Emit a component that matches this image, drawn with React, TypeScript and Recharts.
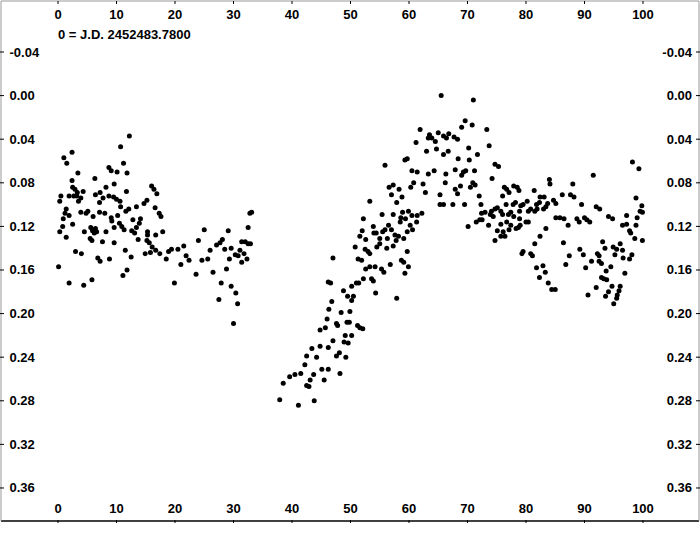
import React from "react";
import { ScatterChart, Scatter, XAxis, YAxis, Customized } from "recharts";

// phase (x) ticks and magnitude (y) ticks
const xTicks = [0, 10, 20, 30, 40, 50, 60, 70, 80, 90, 100];
const yTicks = [-0.04, 0, 0.04, 0.08, 0.12, 0.16, 0.2, 0.24, 0.28, 0.32, 0.36];
const epochLabel = "0 = J.D. 2452483.7800";

// [phase, delta mag]
const firstPart: [number, number][] = [
  [12.2, 0.037], [10.7, 0.047], [2.4, 0.052], [1.0, 0.057], [1.5, 0.062], [11.2, 0.062], [8.7, 0.066],
  [9.1, 0.069], [10.1, 0.07], [11.8, 0.071], [3.4, 0.071], [6.3, 0.076], [2.4, 0.078], [9.6, 0.081],
  [8.2, 0.084], [2.5, 0.084], [2.9, 0.086], [16.0, 0.083], [16.4, 0.086], [7.2, 0.089], [11.7, 0.088],
  [4.3, 0.088], [3.3, 0.089], [3.2, 0.092], [16.9, 0.09], [6.4, 0.091], [0.5, 0.092], [0.3, 0.097],
  [1.9, 0.092], [2.7, 0.092], [8.7, 0.092], [9.5, 0.093], [10.0, 0.095], [3.9, 0.094], [3.5, 0.097],
  [7.7, 0.094], [15.2, 0.096], [14.7, 0.099], [7.1, 0.098], [10.6, 0.097], [10.7, 0.102], [12.1, 0.104],
  [11.6, 0.106], [13.4, 0.102], [1.4, 0.104], [1.2, 0.108], [5.1, 0.106], [4.8, 0.108], [3.9, 0.107],
  [7.1, 0.107], [8.0, 0.108], [16.6, 0.103], [17.3, 0.108], [17.6, 0.111], [10.2, 0.11], [6.0, 0.111],
  [1.9, 0.11], [0.9, 0.113], [9.1, 0.112], [9.2, 0.115], [12.8, 0.114], [14.1, 0.113], [13.9, 0.117],
  [13.4, 0.121], [2.5, 0.118], [10.5, 0.117], [10.9, 0.12], [9.6, 0.121], [0.8, 0.12], [0.3, 0.125],
  [5.6, 0.121], [5.9, 0.124], [6.2, 0.126], [6.4, 0.122], [6.6, 0.125], [11.3, 0.123], [12.6, 0.124],
  [13.1, 0.126], [8.2, 0.125], [4.5, 0.125], [15.3, 0.125], [15.3, 0.128], [17.9, 0.125], [16.7, 0.128],
  [1.4, 0.13], [5.5, 0.131], [5.8, 0.133], [13.7, 0.132], [15.2, 0.133], [15.6, 0.135], [7.6, 0.134],
  [9.6, 0.135], [16.1, 0.139], [15.8, 0.144], [16.7, 0.142], [11.5, 0.142], [18.9, 0.143], [3.0, 0.143],
  [4.0, 0.145], [14.9, 0.145], [17.4, 0.145], [12.5, 0.148], [6.8, 0.149], [7.2, 0.152], [8.8, 0.15],
  [18.5, 0.15], [0.1, 0.157], [11.8, 0.16], [11.1, 0.165], [5.8, 0.169], [4.4, 0.174], [1.9, 0.172],
];

const firstTail: [number, number][] = [
  [33.1, 0.107], [32.8, 0.108], [25.0, 0.123], [29.1, 0.124], [32.5, 0.121], [24.0, 0.133], [28.1, 0.132],
  [27.7, 0.135], [27.1, 0.137], [31.4, 0.134], [32.0, 0.134], [32.5, 0.136], [32.9, 0.136], [21.5, 0.138],
  [20.5, 0.141], [19.4, 0.141], [26.0, 0.142], [28.5, 0.141], [29.6, 0.14], [31.1, 0.142], [30.3, 0.146],
  [30.8, 0.147], [31.8, 0.145], [32.3, 0.15], [21.9, 0.147], [22.4, 0.151], [24.6, 0.151], [25.6, 0.15],
  [29.3, 0.15], [31.4, 0.153], [21.0, 0.155], [28.8, 0.159], [23.6, 0.164], [26.5, 0.162], [19.9, 0.172],
  [27.9, 0.172], [29.6, 0.175], [30.4, 0.181], [27.5, 0.187], [30.7, 0.191], [30.0, 0.209],
];

const risePart: [number, number][] = [
  [37.9, 0.279], [41.1, 0.284], [43.8, 0.28], [38.5, 0.264], [39.6, 0.258], [40.5, 0.256], [41.5, 0.255],
  [42.5, 0.266], [42.9, 0.267], [43.1, 0.261], [43.7, 0.256], [45.1, 0.251], [46.2, 0.251], [45.5, 0.261],
  [48.2, 0.255], [42.2, 0.247], [42.5, 0.239], [44.2, 0.24], [43.4, 0.232], [44.8, 0.23], [46.2, 0.231],
  [47.6, 0.239], [49.2, 0.24], [48.1, 0.236], [47.0, 0.225], [48.9, 0.226], [49.6, 0.227], [49.1, 0.22],
  [50.2, 0.22], [44.8, 0.215], [45.7, 0.213], [46.0, 0.205], [46.3, 0.196], [47.6, 0.209], [47.8, 0.211],
  [49.4, 0.208], [49.8, 0.208], [51.2, 0.211], [51.6, 0.213], [52.1, 0.214], [48.4, 0.199], [49.9, 0.198],
  [46.8, 0.189], [50.2, 0.188], [50.5, 0.184], [49.5, 0.184], [48.8, 0.179], [54.3, 0.181], [57.9, 0.186],
  [46.2, 0.171], [46.6, 0.172], [50.2, 0.175], [51.0, 0.172], [51.4, 0.172], [52.2, 0.168], [53.6, 0.168],
  [53.9, 0.17], [52.6, 0.159], [53.3, 0.157], [54.2, 0.157], [55.3, 0.159], [55.7, 0.162], [56.8, 0.155],
  [58.7, 0.151], [59.1, 0.153], [59.7, 0.143], [59.9, 0.157], [59.3, 0.163], [51.3, 0.15], [51.9, 0.151],
  [47.0, 0.149], [50.8, 0.139], [52.5, 0.141], [53.0, 0.143], [53.3, 0.145], [54.5, 0.139], [55.0, 0.136],
  [56.2, 0.14], [57.3, 0.138], [58.2, 0.129], [57.6, 0.128], [57.0, 0.123], [56.5, 0.119], [58.5, 0.116],
  [57.8, 0.133], [59.1, 0.131], [59.7, 0.125], [60.6, 0.123], [60.2, 0.119], [61.3, 0.116], [54.0, 0.126],
  [54.4, 0.126], [55.5, 0.125], [55.9, 0.123], [52.0, 0.124], [51.6, 0.129], [52.6, 0.132], [53.9, 0.12],
  [55.0, 0.131], [56.3, 0.131],
];

const peakPart: [number, number][] = [
  [65.5, 0.0], [61.9, 0.031], [63.5, 0.036], [63.9, 0.039], [63.3, 0.039], [65.0, 0.034], [64.5, 0.042],
  [65.9, 0.037], [66.4, 0.039], [66.8, 0.035], [61.2, 0.043], [63.0, 0.051], [64.7, 0.049], [65.9, 0.054],
  [66.7, 0.051], [59.7, 0.058], [59.3, 0.059], [55.9, 0.064], [60.5, 0.069], [61.4, 0.07], [63.3, 0.072],
  [64.3, 0.069], [66.3, 0.072], [60.8, 0.08], [60.3, 0.084], [62.4, 0.081], [66.2, 0.08], [56.6, 0.084],
  [57.3, 0.082], [58.3, 0.086], [57.0, 0.091], [58.8, 0.093], [62.8, 0.089], [65.3, 0.091], [53.3, 0.097],
  [57.9, 0.098], [65.3, 0.1], [65.9, 0.1], [55.4, 0.109], [57.3, 0.109], [58.9, 0.107], [59.9, 0.106],
  [60.5, 0.11], [61.4, 0.11], [62.2, 0.108], [52.2, 0.113], [58.6, 0.112], [59.4, 0.113],
];

const latePart: [number, number][] = [
  [71.0, 0.004], [69.6, 0.023], [69.0, 0.029], [70.8, 0.027], [73.3, 0.031], [67.7, 0.038], [68.3, 0.04],
  [73.7, 0.046], [70.2, 0.048], [68.4, 0.058], [70.3, 0.059], [71.7, 0.054], [74.7, 0.063], [75.3, 0.065],
  [67.9, 0.068], [69.3, 0.07], [69.7, 0.069], [69.0, 0.073], [71.2, 0.069], [74.2, 0.076], [70.9, 0.08],
  [71.3, 0.082], [70.5, 0.084], [68.8, 0.083], [67.9, 0.086], [68.3, 0.09], [72.0, 0.092], [67.5, 0.1],
  [69.5, 0.1], [72.3, 0.1], [76.3, 0.084], [76.7, 0.086], [77.1, 0.089], [77.9, 0.083], [78.5, 0.084],
  [78.8, 0.087], [84.0, 0.077], [84.1, 0.081], [88.0, 0.081], [91.5, 0.073], [98.2, 0.061], [99.3, 0.067],
  [81.4, 0.087], [82.4, 0.093], [83.1, 0.093], [86.2, 0.091], [87.6, 0.091], [88.2, 0.093], [76.0, 0.092],
  [84.7, 0.096], [85.1, 0.099], [81.8, 0.1], [82.3, 0.098], [83.4, 0.102], [83.7, 0.099], [80.2, 0.097],
  [79.5, 0.1], [79.1, 0.101], [78.2, 0.098], [77.8, 0.1], [76.6, 0.1], [75.1, 0.103], [74.7, 0.104],
  [74.1, 0.106], [73.9, 0.109], [89.5, 0.1], [92.0, 0.102], [92.6, 0.104], [98.8, 0.094], [99.8, 0.101],
  [99.5, 0.106], [99.9, 0.107], [97.2, 0.11], [99.0, 0.112], [80.8, 0.104], [80.4, 0.106], [81.9, 0.104],
  [81.5, 0.106], [83.0, 0.104], [78.9, 0.106], [77.4, 0.107], [77.0, 0.109], [75.7, 0.106], [76.0, 0.109],
  [73.0, 0.107], [72.4, 0.108], [74.4, 0.111], [71.5, 0.116], [72.1, 0.114], [72.5, 0.114], [73.6, 0.119],
  [70.1, 0.12], [75.7, 0.118], [76.7, 0.116], [77.4, 0.119], [78.3, 0.122], [78.7, 0.121], [79.0, 0.119],
  [80.0, 0.116], [80.4, 0.116], [77.9, 0.111], [78.9, 0.113], [85.1, 0.112], [85.8, 0.112], [86.5, 0.113],
  [87.2, 0.119], [88.7, 0.113], [89.1, 0.116], [90.0, 0.112], [90.4, 0.114], [90.9, 0.116], [94.1, 0.111],
  [94.8, 0.113], [96.5, 0.119], [97.2, 0.118], [97.7, 0.124], [97.9, 0.126], [98.8, 0.119], [98.6, 0.131],
  [99.9, 0.133], [75.1, 0.124], [76.1, 0.125], [75.7, 0.129], [76.4, 0.129], [77.1, 0.123], [74.7, 0.133],
  [83.4, 0.122], [82.4, 0.129], [81.5, 0.136], [86.4, 0.135], [93.1, 0.134], [79.5, 0.143], [79.3, 0.145],
  [80.8, 0.145], [81.1, 0.147], [89.2, 0.141], [89.8, 0.146], [87.4, 0.147], [86.8, 0.155], [93.5, 0.14],
  [94.9, 0.139], [95.5, 0.141], [96.1, 0.136], [96.5, 0.142], [95.2, 0.146], [92.2, 0.145], [92.5, 0.147],
  [91.2, 0.152], [92.5, 0.152], [92.9, 0.154], [96.6, 0.149], [97.7, 0.15], [98.1, 0.146], [90.2, 0.158],
  [94.5, 0.157], [93.7, 0.161], [96.9, 0.163], [81.8, 0.158], [82.9, 0.156], [82.3, 0.167], [83.3, 0.162],
  [83.8, 0.172], [84.4, 0.178], [85.0, 0.178], [92.9, 0.167], [93.3, 0.168], [93.8, 0.169], [94.7, 0.175],
  [94.1, 0.18], [93.6, 0.184], [96.1, 0.175], [95.9, 0.179], [95.6, 0.183], [95.5, 0.186], [95.0, 0.191],
  [92.0, 0.176], [90.6, 0.183],
];

const points = [...firstPart, ...firstTail, ...risePart, ...peakPart, ...latePart].map(([x, y]) => ({ x, y }));

const xDomain = [-9.744, 109.573];
const yDomain = [-0.0868, 0.3903];

const txt = {
  fontFamily: "'Liberation Sans', Arial, Helvetica, sans-serif",
  fontSize: 13,
  fontWeight: 700,
  fill: "#000",
};

const TopTick = (p: any) => (
  <g>
    <line x1={p.x} x2={p.x} y1={1} y2={4} stroke="#000" />
    <text x={p.x} y={18.5} textAnchor="middle" {...txt}>{p.payload.value}</text>
  </g>
);

const BottomTick = (p: any) => (
  <g>
    <line x1={p.x} x2={p.x} y1={520} y2={523} stroke="#000" />
    <text x={p.x} y={513} textAnchor="middle" {...txt}>{p.payload.value}</text>
  </g>
);

const LeftTick = (p: any) => (
  <g>
    <line x1={0} x2={4} y1={p.y} y2={p.y} stroke="#000" />
    <text x={9.5} y={p.y + 4.5} textAnchor="start" {...txt}>{Number(p.payload.value).toFixed(2)}</text>
  </g>
);

const RightTick = (p: any) => (
  <g>
    <line x1={696} x2={700} y1={p.y} y2={p.y} stroke="#000" />
    <text x={692} y={p.y + 4.5} textAnchor="end" {...txt}>{Number(p.payload.value).toFixed(2)}</text>
  </g>
);

const Dot = (p: any) => <circle cx={p.cx} cy={p.cy} r={2.5} fill="#000" />;

export default function App() {
  return (
    <div style={{ position: "absolute", left: 0, top: 0, width: 700, height: 551, background: "#fff" }}>
      <ScatterChart width={700} height={551} margin={{ top: 1, right: 1, bottom: 30, left: 1 }}>
        <XAxis xAxisId="b" type="number" dataKey="x" orientation="bottom" mirror domain={xDomain} allowDataOverflow
          ticks={xTicks} interval={0} tickLine={false} axisLine={{ stroke: "#000", strokeWidth: 1.5 }} tick={BottomTick} />
        <XAxis xAxisId="t" type="number" dataKey="x" orientation="top" mirror domain={xDomain} allowDataOverflow
          ticks={xTicks} interval={0} tickLine={false} axisLine={{ stroke: "#999" }} tick={TopTick} />
        <YAxis yAxisId="l" type="number" dataKey="y" orientation="left" mirror domain={yDomain} reversed allowDataOverflow
          ticks={yTicks} interval={0} tickLine={false} axisLine={{ stroke: "#999" }} tick={LeftTick} />
        <YAxis yAxisId="r" type="number" dataKey="y" orientation="right" mirror domain={yDomain} reversed allowDataOverflow
          ticks={yTicks} interval={0} tickLine={false} axisLine={{ stroke: "#999" }} tick={RightTick} />
        <Scatter xAxisId="b" yAxisId="l" data={points} shape={Dot} isAnimationActive={false} />
        <Scatter xAxisId="t" yAxisId="r" data={[]} isAnimationActive={false} />
        <Customized component={() => <text x={58} y={38.5} {...txt}>{epochLabel}</text>} />
      </ScatterChart>
    </div>
  );
}
